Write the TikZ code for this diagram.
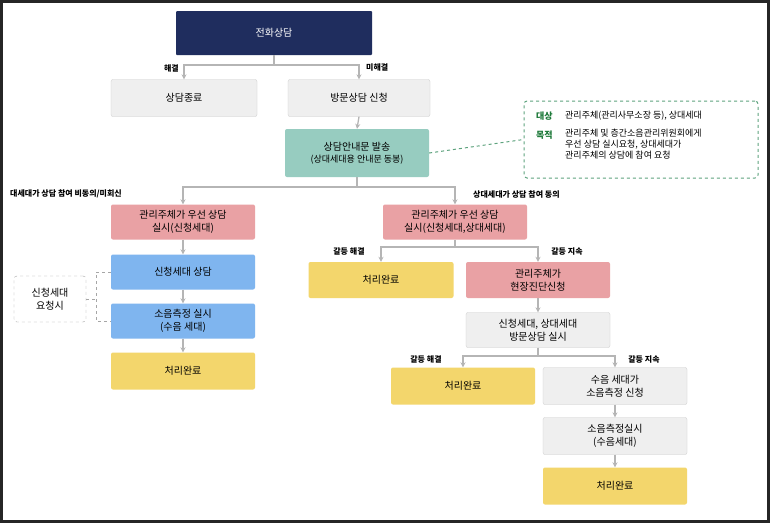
\documentclass[tikz,border=0pt]{standalone}
\usepackage{fontspec}
\setmainfont{Noto Sans CJK KR}
\usetikzlibrary{arrows.meta}
\definecolor{navy}{HTML}{1F2D5E}
\definecolor{lgray}{HTML}{EFEFEF}
\definecolor{teal1}{HTML}{97CCC0}
\definecolor{pink1}{HTML}{E9A1A4}
\definecolor{blue1}{HTML}{7FB5EF}
\definecolor{yel1}{HTML}{F3D66C}
\definecolor{arr}{HTML}{B5B5B5}
\definecolor{grn}{HTML}{1E7A3A}
\definecolor{grnd}{HTML}{5EA37E}
\tikzset{
 box/.style={rectangle, rounded corners=2pt, minimum width=144pt, minimum height=36pt, align=center, font=\fontsize{10}{12.5}\selectfont, inner sep=1pt},
 gbox/.style={box, fill=lgray, draw=lgray!85!black, line width=0.3pt},
 tbox/.style={box, fill=teal1},
 pbox/.style={box, fill=pink1},
 bbox/.style={box, fill=blue1},
 ybox/.style={box, fill=yel1},
 con/.style={draw=arr, line width=1.3pt, -{Stealth[length=5pt,width=5pt]}},
 lin/.style={draw=arr, line width=1.3pt},
 lab/.style={font=\fontsize{8}{10}\selectfont\bfseries, inner sep=1pt},
}
\begin{document}
\begin{tikzpicture}[x=1pt,y=-1pt]
\useasboundingbox (0,0) rectangle (770,523);
\fill[white] (0,0) rectangle (770,523);
\draw[black!85, line width=3pt] (1.5,1.5) rectangle (768.5,521.5);
\node[box, fill=navy, text=white, minimum width=196pt, minimum height=44pt, rounded corners=1pt] (a) at (274,33) {전화상담};
\node[gbox, minimum width=146pt, minimum height=37pt] (end) at (184,98) {상담종료};
\node[gbox, minimum width=142pt, minimum height=37pt] (visit) at (359,98) {방문상담 신청};
\node[tbox, minimum height=48pt] (notice) at (357,153) {상담안내문 발송\\{\fontsize{9}{11}\selectfont(상대세대용 안내문 동봉)}};
\node[draw=grnd, dashed, line width=1pt, rounded corners=3pt, minimum width=234pt, minimum height=77pt] (note) at (641,139.5) {};
\node[anchor=west, font=\fontsize{9}{11}\selectfont\bfseries, text=grn, inner sep=0] (n1) at (536,116) {대상};
\node[anchor=west, font=\fontsize{9}{11}\selectfont, inner sep=0] (n1t) at (565,116) {관리주체(관리사무소장 등), 상대세대};
\node[anchor=west, font=\fontsize{9}{11}\selectfont\bfseries, text=grn, inner sep=0] (n2) at (536,135) {목적};
\node[anchor=north west, align=left, font=\fontsize{9}{11}\selectfont, inner sep=0] (n2t) at (565,129) {관리주체 및 층간소음관리위원회에게\\우선 상담 실시요청, 상대세대가\\관리주체의 상담에 참여 요청};
\draw[grnd, dashed, line width=1pt] (notice.east) -- (note.west);

\node[pbox, minimum height=35pt] (lp) at (183,222) {관리주체가 우선 상담\\실시(신청세대)};
\node[bbox, minimum height=35pt] (lb) at (183,272) {신청세대 상담};
\node[bbox, minimum height=35pt] (lm) at (183,321) {소음측정 실시\\(수음 세대)};
\node[ybox, minimum height=37pt] (ly) at (183,371) {처리완료};
\node[draw=gray!70, dashed, rounded corners=3pt, minimum width=72pt, minimum height=46pt, align=center, font=\fontsize{10}{12.5}\selectfont] (req) at (50,299) {신청세대\\요청시};
\coordinate (bx) at (96,299);
\draw[gray!70, dashed, line width=0.8pt] (req.east) -- (bx) (lb.west) -- (96,272) -- (96,321) -- (lm.west);

\node[pbox, minimum height=35pt] (rp) at (455,222) {관리주체가 우선 상담\\실시(신청세대,상대세대)};
\node[ybox, minimum width=145pt, minimum height=36pt] (ry1) at (381,280) {처리완료};
\node[pbox, minimum height=36pt] (rd) at (538,280) {관리주체가\\현장진단신청};
\node[gbox, minimum height=35pt] (rv) at (538,330) {신청세대, 상대세대\\방문상담 실시};
\node[ybox, minimum height=37pt] (ry2) at (463,386) {처리완료};
\node[gbox, minimum height=37pt] (rs) at (615,386) {수음 세대가\\소음측정 신청};
\node[gbox, minimum height=37pt] (rm) at (615,436) {소음측정실시\\(수음세대)};
\node[ybox, minimum height=37pt] (ry3) at (615,486) {처리완료};

\draw[lin] (a.south) -- (274,65);
\draw[con] (274,65) -| (end.north);
\draw[con] (274,65) -| (visit.north);
\node[lab, anchor=east] (l1) at (180,68) {해결};
\node[lab, anchor=west] (l2) at (365,68) {미해결};
\draw[con] (visit.south) -- (notice.north);
\draw[lin] (notice.south) -- (357,187);
\draw[con] (357,187) -| (lp.north);
\draw[con] (357,187) -| (rp.north);
\node[lab, anchor=west] (l3) at (9,194) {대세대가 상담 참여 비동의/미회신};
\node[lab, anchor=west] (l4) at (472,194) {상대세대가 상담 참여 동의};
\draw[con] (lp.south) -- (lb.north);
\draw[con] (lb.south) -- (lm.north);
\draw[con] (lm.south) -- (ly.north);
\draw[lin] (rp.south) -- (455,247);
\draw[con] (455,247) -| (ry1.north);
\draw[con] (455,247) -| (rd.north);
\node[lab] (l5) at (349,251) {갈등 해결};
\node[lab] (l6) at (567,251) {갈등 지속};
\draw[con] (rd.south) -- (rv.north);
\draw[lin] (rv.south) -- (538,356);
\draw[con] (538,356) -| (ry2.north);
\draw[con] (538,356) -| (rs.north);
\node[lab] (l7) at (426,359) {갈등 해결};
\node[lab] (l8) at (644,359) {갈등 지속};
\draw[con] (rs.south) -- (rm.north);
\draw[con] (rm.south) -- (ry3.north);
\end{tikzpicture}
\end{document}
